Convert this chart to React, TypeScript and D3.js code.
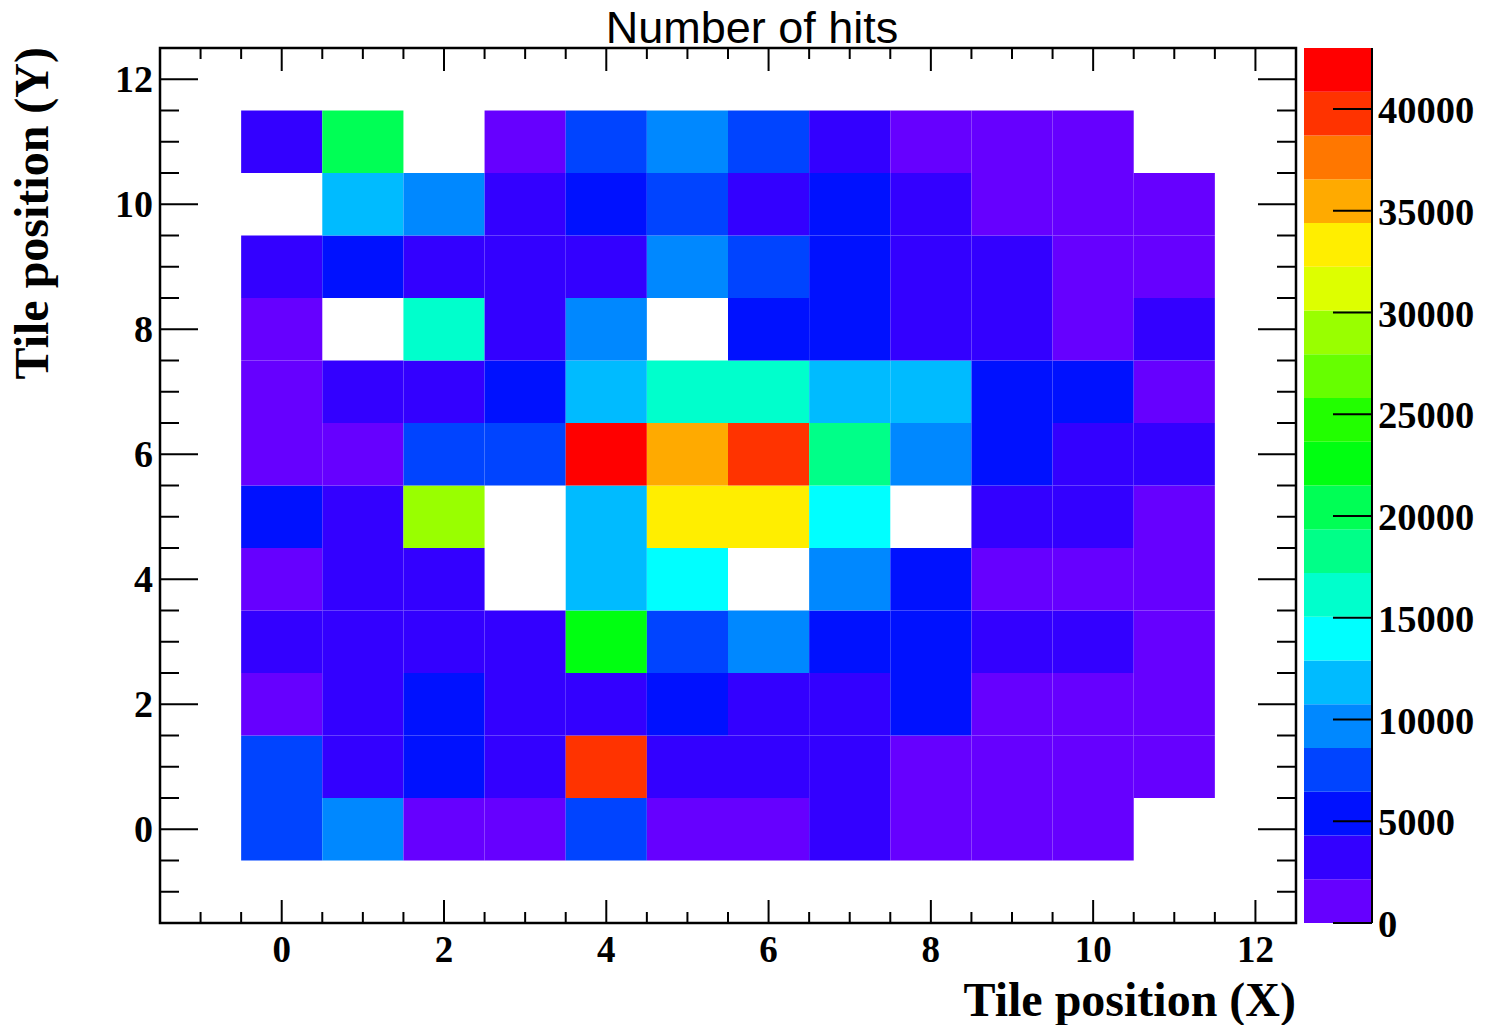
import React from 'react';
import * as d3 from 'd3';

// Tile indices along each axis
const tileX = [0, 1, 2, 3, 4, 5, 6, 7, 8, 9, 10, 11];
const tileY = [0, 1, 2, 3, 4, 5, 6, 7, 8, 9, 10, 11];

// Hit counts per tile, one row per Y index (row 0 = Y 0); 0 = no hits
const hitsY0 = [7300, 9600, 1500, 1700, 7400, 1800, 1600, 3300, 1400, 1200, 900, 0];
const hitsY1 = [7600, 3500, 5400, 3300, 40100, 3900, 3600, 3400, 1700, 1400, 1200, 900];
const hitsY2 = [1700, 3300, 5500, 3800, 3700, 5700, 3500, 3400, 5600, 1500, 1300, 1100];
const hitsY3 = [3700, 3400, 3600, 3900, 22700, 7200, 9900, 5800, 5400, 3400, 3100, 1600];
const hitsY4 = [1900, 3800, 3500, 0, 12200, 13800, 0, 9800, 5500, 1800, 1500, 1200];
const hitsY5 = [5600, 3300, 29200, 0, 11500, 33100, 33400, 14100, 0, 3500, 3200, 1700];
const hitsY6 = [1800, 1400, 7800, 7500, 43000, 35600, 39900, 18200, 9500, 5300, 3400, 3300];
const hitsY7 = [1900, 3500, 3800, 5400, 11700, 16300, 16000, 11600, 12000, 5600, 5300, 1600];
const hitsY8 = [1700, 0, 16200, 3300, 9400, 0, 5700, 5500, 3600, 3000, 1800, 3200];
const hitsY9 = [3300, 5500, 3600, 3200, 3700, 9900, 7600, 5300, 3400, 3100, 1500, 1300];
const hitsY10 = [0, 11900, 9800, 3400, 5200, 7300, 3500, 5600, 3200, 1600, 1200, 1000];
const hitsY11 = [3100, 20600, 0, 1500, 7400, 9600, 7700, 3300, 1300, 1100, 1400, 0];

const hitRows = [hitsY0, hitsY1, hitsY2, hitsY3, hitsY4, hitsY5, hitsY6, hitsY7, hitsY8, hitsY9, hitsY10, hitsY11];

// 20-level rainbow palette, low to high
const paletteColors = [
  '#6600ff', '#3300ff', '#0011ff', '#0044ff', '#0088ff',
  '#00bbff', '#00ffff', '#00ffcc', '#00ff88', '#00ff55',
  '#00ff11', '#22ff00', '#66ff00', '#99ff00', '#ddff00',
  '#ffee00', '#ffaa00', '#ff7700', '#ff3300', '#ff0000',
];

const xTickLabels = [0, 2, 4, 6, 8, 10, 12];
const yTickLabels = [0, 2, 4, 6, 8, 10, 12];
const zTickLabels = [0, 5000, 10000, 15000, 20000, 25000, 30000, 35000, 40000];

const W = 1489;
const H = 1025;
const frame = { left: 160, right: 1296, top: 48, bottom: 923 };
const pal = { left: 1304, right: 1372 };

const SERIF = '"Liberation Serif", "Times New Roman", serif';
const SANS = '"Liberation Sans", Arial, sans-serif';

export default function App() {
  const x = d3.scaleLinear().domain([-1.5, 12.5]).range([frame.left, frame.right]);
  const y = d3.scaleLinear().domain([-1.5, 12.5]).range([frame.bottom, frame.top]);

  const zMax = d3.max(hitRows.flat()) as number;
  const nLevels = paletteColors.length;
  const z = d3.scaleLinear().domain([0, zMax]).range([frame.bottom, frame.top]);
  const colorOf = (v: number) =>
    paletteColors[Math.min(nLevels - 1, Math.floor((v / zMax) * nLevels))];

  // minor ticks every 0.5 across the visible range
  const minor = d3.range(-1.5, 12.5001, 0.5).filter((t) => t > -1.5 && t < 12.5);
  const isMajor = (t: number) => Math.abs(t / 2 - Math.round(t / 2)) < 1e-6;

  const cells: React.ReactNode[] = [];
  tileY.forEach((ty) => {
    tileX.forEach((tx) => {
      const v = hitRows[ty][tx];
      if (v <= 0) return;
      const x0 = x(tx - 0.5);
      const x1 = x(tx + 0.5);
      const y0 = y(ty + 0.5);
      const y1 = y(ty - 0.5);
      cells.push(
        <rect key={`c${tx}-${ty}`} x={x0} y={y0} width={x1 - x0} height={y1 - y0} fill={colorOf(v)} />
      );
    });
  });

  const bands = d3.range(nLevels).map((k) => {
    const lo = (k * zMax) / nLevels;
    const hi = ((k + 1) * zMax) / nLevels;
    return (
      <rect
        key={`b${k}`}
        x={pal.left}
        y={z(hi)}
        width={pal.right - pal.left}
        height={z(lo) - z(hi)}
        fill={paletteColors[k]}
      />
    );
  });

  const stroke = '#000';
  const tw = 2;

  return (
    <svg
      width={W}
      height={H}
      viewBox={`0 0 ${W} ${H}`}
      style={{ position: 'absolute', left: 0, top: 0, background: '#fff' }}
    >
      <rect x={0} y={0} width={W} height={H} fill="#fff" />

      {/* histogram cells */}
      <g>{cells}</g>

      {/* X ticks, bottom and top */}
      {minor.map((t) => {
        const len = isMajor(t) ? 23 : 11;
        return (
          <g key={`xt${t}`} stroke={stroke} strokeWidth={tw}>
            <line x1={x(t)} x2={x(t)} y1={frame.bottom} y2={frame.bottom - len} />
            <line x1={x(t)} x2={x(t)} y1={frame.top} y2={frame.top + len} />
          </g>
        );
      })}
      {/* Y ticks, left and right */}
      {minor.map((t) => {
        const len = isMajor(t) ? 38 : 19;
        return (
          <g key={`yt${t}`} stroke={stroke} strokeWidth={tw}>
            <line x1={frame.left} x2={frame.left + len} y1={y(t)} y2={y(t)} />
            <line x1={frame.right} x2={frame.right - len} y1={y(t)} y2={y(t)} />
          </g>
        );
      })}

      {/* frame */}
      <rect
        x={frame.left}
        y={frame.top}
        width={frame.right - frame.left}
        height={frame.bottom - frame.top}
        fill="none"
        stroke={stroke}
        strokeWidth={2.5}
      />

      {/* tick labels */}
      {xTickLabels.map((t) => (
        <text
          key={`xl${t}`}
          x={x(t)}
          y={962}
          textAnchor="middle"
          fontFamily={SERIF}
          fontWeight="bold"
          fontSize={37}
        >
          {t}
        </text>
      ))}
      {yTickLabels.map((t) => (
        <text
          key={`yl${t}`}
          x={153}
          y={y(t) + 13}
          textAnchor="end"
          fontFamily={SERIF}
          fontWeight="bold"
          fontSize={38}
        >
          {t}
        </text>
      ))}

      {/* axis titles */}
      <text
        x={frame.right}
        y={1016}
        textAnchor="end"
        fontFamily={SERIF}
        fontWeight="bold"
        fontSize={48}
      >
        Tile position (X)
      </text>
      <text
        transform={`translate(48, ${frame.top - 1}) rotate(-90)`}
        textAnchor="end"
        fontFamily={SERIF}
        fontWeight="bold"
        fontSize={48}
      >
        Tile position (Y)
      </text>

      {/* title */}
      <text x={752} y={43} textAnchor="middle" fontFamily={SANS} fontSize={45}>
        Number of hits
      </text>

      {/* colour palette */}
      <g>{bands}</g>
      <line x1={pal.right} x2={pal.right} y1={frame.top} y2={frame.bottom} stroke={stroke} strokeWidth={2} />
      {zTickLabels.map((t) => (
        <g key={`zl${t}`}>
          <line x1={pal.right} x2={pal.right - 39} y1={z(t)} y2={z(t)} stroke={stroke} strokeWidth={2} />
          <text
            x={1378}
            y={z(t) + 14}
            fontFamily={SERIF}
            fontWeight="bold"
            fontSize={38.5}
          >
            {t}
          </text>
        </g>
      ))}
    </svg>
  );
}
